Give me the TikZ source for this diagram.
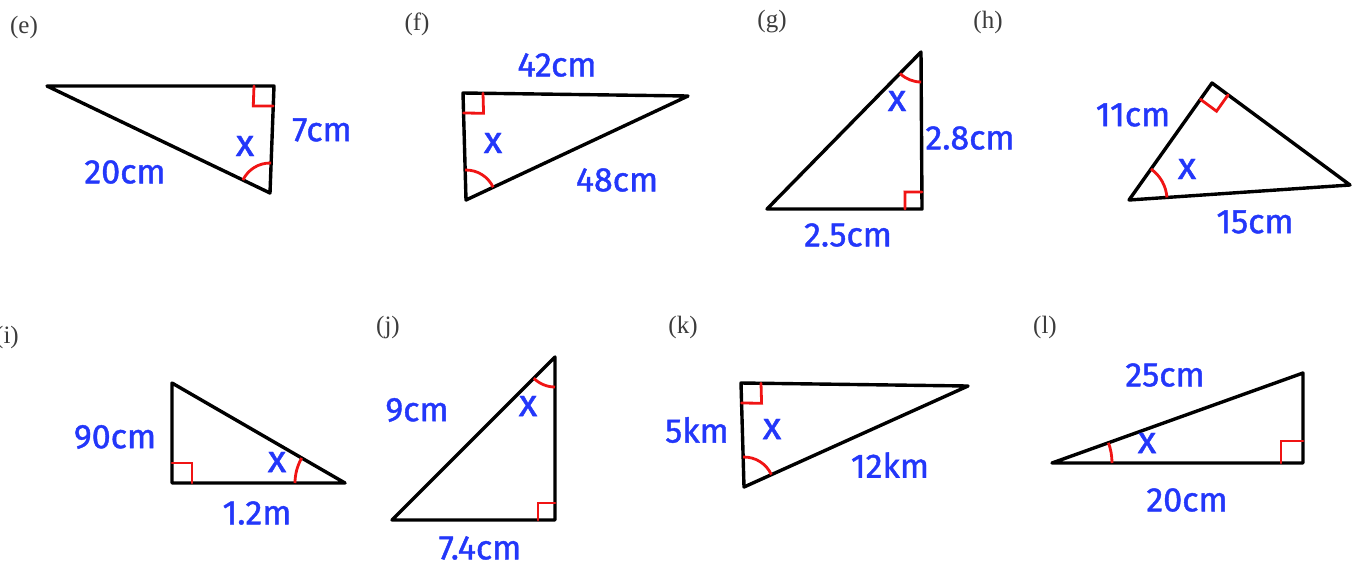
\documentclass[tikz,border=0pt]{standalone}
\usepackage{fontspec}
\setmainfont{Liberation Serif}
\newfontfamily\handfont[FakeBold=1.2]{Fira Sans}
\usetikzlibrary{angles}
\definecolor{lblue}{RGB}{35,55,250}
\definecolor{lred}{RGB}{240,20,20}
\definecolor{lgray}{RGB}{60,60,60}
\tikzset{
  tri/.style={draw=black,line width=3.4pt,line join=round,line cap=round},
  meas/.style={text=lblue,font=\handfont\fontsize{34}{36}\selectfont,inner sep=0pt},
  xlab/.style={text=lblue,font=\handfont\fontsize{38}{40}\selectfont,inner sep=0pt},
  qlab/.style={text=lgray,font=\fontsize{25}{27}\selectfont,inner sep=0pt},
  arcmark/.style={draw=lred,line width=2.8pt,angle radius=30pt},
  rmark/.style={draw=lred,line width=2.8pt,angle radius=20pt,line cap=round}
}
\begin{document}
\begin{tikzpicture}[x=1pt,y=-1pt]
\useasboundingbox (0,0) rectangle (1359,566);
\fill[white] (0,0) rectangle (1359,566);
% (e)
\coordinate (eA) at (47,86); \coordinate (eB) at (274,86); \coordinate (eC) at (270,193);
\draw[tri] (eA) -- (eB) -- (eC) -- cycle;
\pic[arcmark] {angle=eB--eC--eA};
\pic[rmark] {right angle=eA--eB--eC};
\node[qlab] (le) at (24,27) {(e)};
\node[meas] (e1) at (322,130) {7cm};
\node[meas] (e2) at (125,172) {20cm};
\node[xlab] (ex) at (245,146) {x};
% (f)
\coordinate (fP) at (463,93); \coordinate (fQ) at (688,96); \coordinate (fR) at (466,200);
\draw[tri] (fP) -- (fQ) -- (fR) -- cycle;
\pic[arcmark] {angle=fQ--fR--fP};
\pic[rmark] {right angle=fR--fP--fQ};
\node[qlab] (lf) at (417,24) {(f)};
\node[meas] (f1) at (557,65) {42cm};
\node[meas] (f2) at (617,180) {48cm};
\node[xlab] (fx) at (493,143) {x};
% (g)
\coordinate (gA) at (767,209); \coordinate (gB) at (922,209); \coordinate (gC) at (921,52);
\draw[tri] (gA) -- (gB) -- (gC) -- cycle;
\pic[arcmark] {angle=gA--gC--gB};
\pic[rmark,angle radius=17pt] {right angle=gC--gB--gA};
\node[qlab] (lg) at (772,22) {(g)};
\node[meas] (g1) at (970,138) {2.8cm};
\node[meas] (g2) at (848,235) {2.5cm};
\node[xlab] (gx) at (897,101) {x};
% (h)
\coordinate (hL) at (1129,200); \coordinate (hT) at (1212,83); \coordinate (hR) at (1350,185);
\draw[tri] (hL) -- (hT) -- (hR) -- cycle;
\pic[arcmark,angle radius=38pt] {angle=hR--hL--hT};
\pic[rmark] {right angle=hL--hT--hR};
\node[qlab] (lh) at (988,22) {(h)};
\node[meas] (h1) at (1133,115) {11cm};
\node[meas] (h2) at (1255,222) {15cm};
\node[xlab] (hx) at (1187,169) {x};
% (i)
\coordinate (iT) at (172,383); \coordinate (iB) at (172,483); \coordinate (iR) at (345,483);
\draw[tri] (iT) -- (iB) -- (iR) -- cycle;
\pic[arcmark,angle radius=50pt] {angle=iT--iR--iB};
\pic[rmark] {right angle=iR--iB--iT};
\node[qlab] (li) at (7,337) {(i)};
\node[meas] (i1) at (115,437) {90cm};
\node[meas] (i2) at (257,513) {1.2m};
\node[xlab] (ix) at (277,462) {x};
% (j)
\coordinate (jA) at (392,520); \coordinate (jB) at (555,520); \coordinate (jC) at (555,357);
\draw[tri] (jA) -- (jB) -- (jC) -- cycle;
\pic[arcmark] {angle=jA--jC--jB};
\pic[rmark,angle radius=17pt] {right angle=jC--jB--jA};
\node[qlab] (lj) at (388,327) {(j)};
\node[meas] (j1) at (417,410) {9cm};
\node[meas] (j2) at (480,548) {7.4cm};
\node[xlab] (jx) at (528,406) {x};
% (k)
\coordinate (kP) at (741,383); \coordinate (kQ) at (968,386); \coordinate (kR) at (744,487);
\draw[tri] (kP) -- (kQ) -- (kR) -- cycle;
\pic[arcmark] {angle=kQ--kR--kP};
\pic[rmark] {right angle=kR--kP--kQ};
\node[qlab] (lk) at (683,327) {(k)};
\node[meas] (k1) at (697,430) {5km};
\node[meas] (k2) at (890,465) {12km};
\node[xlab] (kx) at (772,429) {x};
% (l)
\coordinate (lL) at (1052,463); \coordinate (lB) at (1303,463); \coordinate (lT) at (1303,373);
\draw[tri] (lL) -- (lB) -- (lT) -- cycle;
\pic[arcmark,angle radius=60pt] {angle=lB--lL--lT};
\pic[rmark,angle radius=22pt] {right angle=lT--lB--lL};
\node[qlab] (ll) at (1045,327) {(l)};
\node[meas] (l1) at (1165,375) {25cm};
\node[meas] (l2) at (1187,500) {20cm};
\node[xlab] (lx) at (1147,443) {x};
\end{tikzpicture}
\end{document}
